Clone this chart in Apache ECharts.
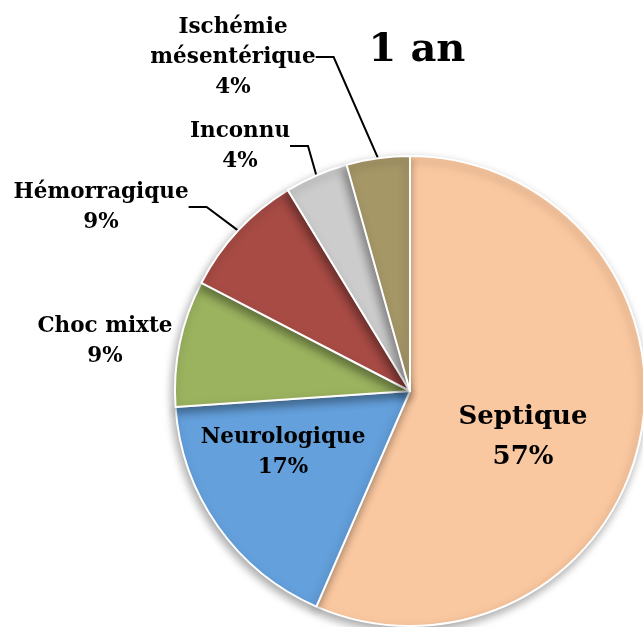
<!DOCTYPE html>
<html>
<head>
<meta charset="utf-8">
<script src="https://cdn.jsdelivr.net/npm/echarts@6/dist/echarts.min.js"></script>
<style>
html, body { margin: 0; padding: 0; background: #fff; }
#chart { width: 643px; height: 627px; }
</style>
</head>
<body>
<div id="chart"></div>
<script>
// causes de décès à 1 an (effectifs lus d'après les angles : 57/17/9/9/4/4 %)
const categories = ['Septique', 'Neurologique', 'Choc mixte', 'Hémorragique', 'Inconnu', 'Ischémie\nmésentérique'];
const values = [13, 4, 2, 2, 1, 1];
const colors = ['#FAC8A0', '#64A0DC', '#9BB35F', '#A84B45', '#CCCCCC', '#A69767'];

// où Excel a posé les étiquettes (centre du bloc de texte)
const labelPos = [[523, 437], [283, 452], [105, 341], [101, 207], [240, 146], [233, 57]];

const myChart = echarts.init(document.getElementById('chart'));

const seriesData = values.map(function (v, i) {
    const inside = i < 2;
    return {
        name: categories[i],
        value: v,
        itemStyle: { color: colors[i] },
        label: inside ? { position: 'inside', fontSize: i === 0 ? 26 : 21.5, lineHeight: i === 0 ? 40 : 30 } : {},
        labelLine: { show: !(inside || i === 2) }
    };
});

const option = {
    animation: false,
    title: {
        text: '1 an',
        left: 412,
        top: 26,
        textAlign: 'center',
        textStyle: { fontFamily: 'DejaVu Serif', fontWeight: 'bold', fontSize: 40, color: '#000' }
    },
    series: [
        {
            type: 'pie',
            center: [410, 391],
            radius: 235,
            startAngle: 90,
            clockwise: true,
            avoidLabelOverlap: false,
            percentPrecision: 0,
            data: seriesData,
            itemStyle: {
                borderColor: '#fff',
                borderWidth: 2,
                shadowBlur: 10,
                shadowOffsetX: -2,
                shadowOffsetY: 4,
                shadowColor: 'rgba(0,0,0,0.35)'
            },
            label: {
                show: true,
                position: 'outside',
                formatter: '{b}\n{d}%',
                fontFamily: 'DejaVu Serif',
                fontWeight: 'bold',
                fontSize: 21.5,
                lineHeight: 30,
                color: '#000',
                align: 'center'
            },
            labelLine: {
                length: 10,
                length2: 18,
                lineStyle: { color: '#000', width: 2 }
            },
            labelLayout: function (params) {
                const p = labelPos[params.dataIndex];
                return { x: p[0], y: p[1], align: 'center', verticalAlign: 'middle' };
            }
        }
    ]
};

myChart.setOption(option);
</script>
</body>
</html>
